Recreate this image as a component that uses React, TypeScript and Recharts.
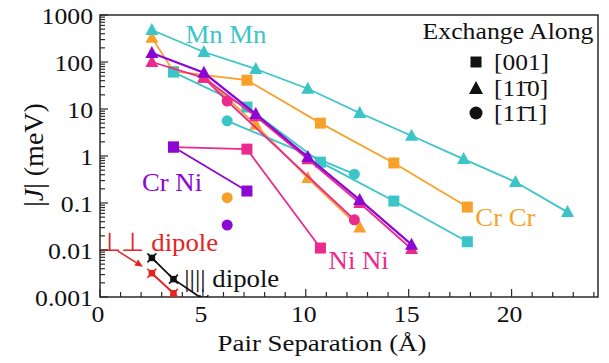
import React from "react";
import {
  Legend,
  ReferenceArea,
  ReferenceDot,
  ReferenceLine,
  Scatter,
  ScatterChart,
  XAxis,
  YAxis,
} from "recharts";

const FONT = "Liberation Serif, Times New Roman, Times, serif";
const AXIS = "#2a2a2a";

const CYAN = "#3cc5c9";
const ORANGE = "#f8a12a";
const PURPLE = "#8c07d4";
const PINK = "#ea2b8c";
const RED = "#e5231f";
const BLACK = "#111111";

type Mark = "sq" | "tri" | "cir" | "dip";
type Pt = { r: number; j: number; m: Mark };

// pair separation r (Å) vs |J| (meV)
const mnMn110: Pt[] = [
  { r: 2.52, j: 480, m: "tri" },
  { r: 5.05, j: 163, m: "tri" },
  { r: 7.57, j: 71, m: "tri" },
  { r: 10.1, j: 27, m: "tri" },
  { r: 12.62, j: 8.2, m: "tri" },
  { r: 15.14, j: 2.7, m: "tri" },
  { r: 17.67, j: 0.86, m: "tri" },
  { r: 20.19, j: 0.28, m: "tri" },
  { r: 22.72, j: 0.064, m: "tri" },
];
const mnMn001: Pt[] = [
  { r: 3.57, j: 61, m: "sq" },
  { r: 7.14, j: 11, m: "sq" },
  { r: 10.71, j: 0.74, m: "sq" },
  { r: 14.28, j: 0.11, m: "sq" },
  { r: 17.85, j: 0.015, m: "sq" },
];
const mnMn111: Pt[] = [
  { r: 6.18, j: 5.6, m: "cir" },
  { r: 12.36, j: 0.41, m: "cir" },
];

const crCr001: Pt[] = [
  { r: 2.52, j: 330, m: "tri" },
  { r: 3.57, j: 63, m: "sq" },
  { r: 7.14, j: 41, m: "sq" },
  { r: 10.71, j: 5.0, m: "sq" },
  { r: 14.28, j: 0.71, m: "sq" },
  { r: 17.85, j: 0.082, m: "sq" },
];
const crCr110: Pt[] = [
  { r: 5.05, j: 50, m: "tri" },
  { r: 7.57, j: 4.6, m: "tri" },
  { r: 10.1, j: 0.34, m: "tri" },
  { r: 12.62, j: 0.03, m: "tri" },
];
const crCr111: Pt[] = [{ r: 6.18, j: 0.13, m: "cir" }];

const niNi110: Pt[] = [
  { r: 2.52, j: 100, m: "tri" },
  { r: 5.05, j: 46, m: "tri" },
  { r: 7.57, j: 7.0, m: "tri" },
  { r: 10.1, j: 0.85, m: "tri" },
  { r: 12.62, j: 0.1, m: "tri" },
  { r: 15.14, j: 0.0105, m: "tri" },
];
const niNi111: Pt[] = [
  { r: 5.05, j: 46, m: "tri" },
  { r: 6.18, j: 14.8, m: "cir" },
  { r: 12.36, j: 0.044, m: "cir" },
];
const niNi001: Pt[] = [
  { r: 3.57, j: 1.55, m: "sq" },
  { r: 7.14, j: 1.4, m: "sq" },
  { r: 10.71, j: 0.011, m: "sq" },
];

const crNi110: Pt[] = [
  { r: 2.52, j: 155, m: "tri" },
  { r: 5.05, j: 59, m: "tri" },
  { r: 7.57, j: 7.8, m: "tri" },
  { r: 10.1, j: 0.95, m: "tri" },
  { r: 12.62, j: 0.116, m: "tri" },
  { r: 15.14, j: 0.013, m: "tri" },
];
const crNi001: Pt[] = [
  { r: 3.57, j: 1.55, m: "sq" },
  { r: 7.14, j: 0.18, m: "sq" },
];
const crNi111: Pt[] = [{ r: 6.18, j: 0.034, m: "cir" }];

const dipolePar: Pt[] = [
  { r: 2.52, j: 0.0068, m: "dip" },
  { r: 3.57, j: 0.0024, m: "dip" },
  { r: 5.05, j: 0.00087, m: "dip" },
];
const dipolePerp: Pt[] = [
  { r: 2.52, j: 0.0032, m: "dip" },
  { r: 3.57, j: 0.0012, m: "dip" },
  { r: 5.05, j: 0.0003, m: "dip" },
];

const X_MAX = 24.2;
const xTicks = Array.from({ length: 25 }, (_, i) => i);
const xLabels = [0, 5, 10, 15, 20];
const yDecades = [0.001, 0.01, 0.1, 1, 10, 100, 1000];
const yLabels = ["0.001", "0.01", "0.1", "1", "10", "100", "1000"];
const yTicks = yDecades.flatMap((d, i) =>
  i === yDecades.length - 1 ? [d] : [1, 2, 3, 4, 5, 6, 7, 8, 9].map((k) => +(d * k).toPrecision(3))
);

function SText({ x, y, size = 23, sx = 1.12, fill = BLACK, anchor = "middle", children }: any) {
  return (
    <text
      transform={`translate(${x},${y}) scale(${sx},1)`}
      textAnchor={anchor}
      dominantBaseline="central"
      fill={fill}
      style={{ fontFamily: FONT, fontSize: size }}
    >
      {children}
    </text>
  );
}

function Marker({ cx, cy, kind, color }: { cx: number; cy: number; kind: Mark; color: string }) {
  if (cx == null || cy == null || isNaN(cx) || isNaN(cy)) return null;
  if (kind === "sq") return <rect x={cx - 5.5} y={cy - 5.5} width={11} height={11} fill={color} />;
  if (kind === "tri")
    return <polygon points={`${cx},${cy - 7} ${cx + 6.5},${cy + 5} ${cx - 6.5},${cy + 5}`} fill={color} />;
  if (kind === "cir") return <circle cx={cx} cy={cy} r={5.5} fill={color} />;
  return (
    <g stroke={color} strokeWidth={1.5}>
      <rect x={cx - 2.5} y={cy - 2.5} width={5} height={5} fill={color} />
      <line x1={cx - 4.5} y1={cy - 4.5} x2={cx + 4.5} y2={cy + 4.5} />
      <line x1={cx - 4.5} y1={cy + 4.5} x2={cx + 4.5} y2={cy - 4.5} />
    </g>
  );
}

const XTick = ({ x, y, payload }: any) => {
  const v = payload.value;
  const major = xLabels.includes(v);
  return (
    <g>
      <line x1={x} x2={x} y1={y} y2={y - (major ? 8 : 5)} stroke={AXIS} strokeWidth={1.2} />
      {major && <SText x={x - 2} y={y + 17}>{String(v)}</SText>}
    </g>
  );
};

const YTick = ({ x, y, payload }: any) => {
  const idx = yDecades.findIndex((d) => Math.abs(d - payload.value) / d < 1e-6);
  const major = idx >= 0;
  return (
    <g>
      <line x1={x} x2={x + (major ? 8 : 5)} y1={y} y2={y} stroke={AXIS} strokeWidth={1.2} />
      {major && (
        <SText x={x - 7} y={y + 1} anchor="end">
          {yLabels[idx]}
        </SText>
      )}
    </g>
  );
};

function series(data: Pt[], color: string, width = 1.8) {
  return (
    <Scatter
      data={data}
      fill={color}
      line={{ stroke: color, strokeWidth: width }}
      lineType="joint"
      isAnimationActive={false}
      shape={(p: any) => <Marker cx={p.cx} cy={p.cy} kind={p.payload.m} color={color} />}
    />
  );
}

function textAt(x: number, y: number, content: React.ReactNode, color: string, size = 26) {
  return (
    <ReferenceDot
      x={x}
      y={y}
      r={0}
      ifOverflow="visible"
      shape={(p: any) => (
        <SText x={p.cx} y={p.cy} size={size} sx={1.03} fill={color}>
          {content}
        </SText>
      )}
    />
  );
}

const LegendBox = () => (
  <svg width={190} height={115} style={{ overflow: "visible" }}>
    <SText x={93} y={16} size={23}>
      Exchange Along
    </SText>
    <Marker cx={61} cy={47} kind="sq" color={BLACK} />
    <SText x={79} y={47} size={24} sx={1.06} anchor="start">
      [001]
    </SText>
    <polygon points="61,66 68,79 54,79" fill={BLACK} />
    <SText x={79} y={73} size={24} sx={1.06} anchor="start">
      {"[1\u0031\u03040]"}
    </SText>
    <circle cx={61} cy={98} r={6.5} fill={BLACK} />
    <SText x={79} y={98} size={24} sx={1.06} anchor="start">
      {"[1\u0031\u03041]"}
    </SText>
  </svg>
);

const YTitle = () => (
  <text
    transform="translate(33,155) rotate(-90)"
    textAnchor="middle"
    dominantBaseline="central"
    fill={BLACK}
    style={{ fontFamily: FONT, fontSize: 28 }}
  >
    |<tspan fontStyle="italic">J</tspan>| (meV)
  </text>
);

const XTitle = () => (
  <SText x={322} y={343} size={24} sx={1.12}>
    Pair Separation (Å)
  </SText>
);

const Arrow = (p: any) => {
  const { x1, y1, x2, y2 } = p;
  const a = Math.atan2(y2 - y1, x2 - x1);
  const L = 8;
  const W = 3.5;
  const bx = x2 - L * Math.cos(a);
  const by = y2 - L * Math.sin(a);
  const px = -Math.sin(a) * W;
  const py = Math.cos(a) * W;
  return (
    <g>
      <line x1={x1} y1={y1} x2={bx} y2={by} stroke={RED} strokeWidth={1.5} />
      <polygon points={`${x2},${y2} ${bx + px},${by + py} ${bx - px},${by - py}`} fill={RED} />
    </g>
  );
};

export default function App() {
  return (
    <div
      style={{
        position: "absolute",
        left: 0,
        top: 0,
        width: 609,
        height: 363,
        background: "#fff",
        fontFamily: FONT,
      }}
    >
      <ScatterChart width={609} height={363} margin={{ top: 15, right: 11, bottom: 26, left: 10 }}>
        <XAxis
          type="number"
          dataKey="r"
          domain={[0, X_MAX]}
          ticks={xTicks}
          interval={0}
          allowDataOverflow
          axisLine={false}
          tickLine={false}
          tickSize={0}
          tickMargin={0}
          height={40}
          tick={<XTick />}
          label={{ content: () => <XTitle /> }}
        />
        <YAxis
          type="number"
          dataKey="j"
          scale="log"
          domain={[0.001, 1000]}
          ticks={yTicks}
          interval={0}
          allowDataOverflow
          axisLine={false}
          tickLine={false}
          tickSize={0}
          tickMargin={0}
          width={90}
          tick={<YTick />}
          label={{ content: () => <YTitle /> }}
        />
        {series(crCr001, ORANGE)}
        {series(crCr110, ORANGE)}
        {series(crCr111, ORANGE)}
        {series(mnMn110, CYAN)}
        {series(mnMn001, CYAN)}
        {series(mnMn111, CYAN)}
        {series(niNi110, PINK)}
        {series(niNi111, PINK)}
        {series(niNi001, PINK)}
        {series(crNi110, PURPLE, 2.2)}
        {series(crNi001, PURPLE)}
        {series(crNi111, PURPLE)}
        {series(dipolePar, BLACK)}
        {series(dipolePerp, RED)}
        <ReferenceArea
          x1={0}
          x2={X_MAX}
          y1={0.001}
          y2={1000}
          fill="none"
          fillOpacity={0}
          stroke={AXIS}
          strokeWidth={1.5}
        />
        {textAt(6.12, 395, "Mn Mn", CYAN)}
        {textAt(3.5, 0.28, "Cr Ni", PURPLE)}
        {textAt(19.7, 0.05, "Cr Cr", ORANGE)}
        {textAt(12.57, 0.0062, "Ni Ni", PINK)}
        {textAt(2.82, 0.0148, "\u22A5\u22A5 dipole", RED)}
        {textAt(6.4, 0.0025, "|||| dipole", BLACK)}
        <ReferenceLine
          segment={[
            { x: 0.87, y: 0.0095 },
            { x: 2.09, y: 0.0044 },
          ]}
          ifOverflow="visible"
          shape={Arrow}
        />
        <Legend
          layout="vertical"
          align="center"
          verticalAlign="middle"
          wrapperStyle={{ position: "absolute", left: 415, top: 15, width: 190, height: 115 }}
          content={() => <LegendBox />}
        />
      </ScatterChart>
    </div>
  );
}
